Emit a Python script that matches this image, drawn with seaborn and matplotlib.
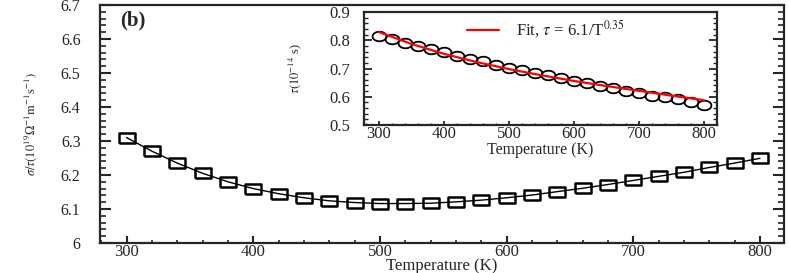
import numpy as np
import pandas as pd
import matplotlib
matplotlib.use("Agg")
import matplotlib.pyplot as plt
import seaborn as sns
from matplotlib.ticker import MultipleLocator, FuncFormatter

# ---- data ----
temps = [300, 320, 340, 360, 380, 400, 420, 440, 460, 480, 500, 520, 540,
         560, 580, 600, 620, 640, 660, 680, 700, 720, 740, 760, 780, 800]
sigma_tau = [6.310, 6.270, 6.235, 6.205, 6.180, 6.160, 6.145, 6.133, 6.124,
             6.119, 6.116, 6.116, 6.117, 6.121, 6.126, 6.133, 6.141, 6.151,
             6.161, 6.172, 6.184, 6.196, 6.208, 6.222, 6.235, 6.249]
tau = [0.815, 0.803, 0.792, 0.781, 0.768, 0.757, 0.745, 0.735, 0.725, 0.714,
       0.703, 0.694, 0.685, 0.676, 0.666, 0.657, 0.648, 0.639, 0.630, 0.621,
       0.613, 0.604, 0.598, 0.591, 0.582, 0.571]
fit_T = [300, 350, 400, 450, 500, 550, 600, 650, 700, 750, 800]
fit_tau = [0.829, 0.787, 0.752, 0.723, 0.698, 0.676, 0.656, 0.638, 0.621, 0.604, 0.588]

main_df = pd.DataFrame({"T": temps, "v": sigma_tau})
tau_df = pd.DataFrame({"T": temps, "v": tau})
fit_df = pd.DataFrame({"T": fit_T, "v": fit_tau})

sns.set_style("ticks")
plt.rcParams["font.family"] = ["Liberation Serif", "DejaVu Serif"]
plt.rcParams["mathtext.fontset"] = "stix"

# wide (stretched) open square and ellipse markers, as in the reference
rect_marker = [(-1.5, -1), (1.5, -1), (1.5, 1), (-1.5, 1), (-1.5, -1)]
th = np.linspace(0, 2 * np.pi, 41)
ellipse_marker = list(zip(1.45 * np.cos(th), np.sin(th)))

fig = plt.figure(figsize=(7.89, 2.73), dpi=100)
ax = fig.add_axes([0.1267, 0.1099, 0.867, 0.872])

sns.lineplot(data=main_df, x="T", y="v", ax=ax, color="black", lw=1.0,
             marker=rect_marker, markersize=11, markerfacecolor="none",
             markeredgecolor="black", markeredgewidth=1.8)
ax.set_xlim(279, 819)
ax.set_ylim(6.0, 6.7)
ax.xaxis.set_major_locator(MultipleLocator(100))
ax.xaxis.set_minor_locator(MultipleLocator(20))
ax.yaxis.set_major_locator(MultipleLocator(0.1))
ax.yaxis.set_minor_locator(MultipleLocator(0.02))
ax.yaxis.set_major_formatter(FuncFormatter(lambda v, p: f"{v:g}"))
ax.tick_params(axis="y", which="major", direction="in", length=8, width=1.5,
               left=True, right=True, labelsize=11.5, pad=14)
ax.tick_params(axis="y", which="minor", direction="in", length=4.5, width=1.2,
               left=True, right=True)
ax.tick_params(axis="x", which="major", direction="in", length=5, width=1.5,
               labelsize=12, pad=1)
ax.tick_params(axis="x", which="minor", direction="in", length=2.5, width=1.2)
for s in ax.spines.values():
    s.set_linewidth(1.6)
ax.set_xlabel("Temperature (K)", fontsize=12, labelpad=-2)
ax.set_ylabel(r"$\sigma/\tau(10^{19}\Omega^{-1}\mathrm{m}^{-1}\mathrm{s}^{-1})$",
              fontsize=9, labelpad=16)
ax.text(0.03, 0.935, "(b)", transform=ax.transAxes, fontsize=15,
        fontweight="bold", va="center", ha="left")

# ---- inset ----
ins = fig.add_axes([0.4613, 0.5421, 0.4474, 0.4139])
sns.lineplot(data=tau_df, x="T", y="v", ax=ins, color="black", lw=0,
             marker=ellipse_marker, markersize=10, markerfacecolor="none",
             markeredgecolor="black", markeredgewidth=1.3, linestyle="none")
sns.lineplot(data=fit_df, x="T", y="v", ax=ins, color="red", lw=1.6,
             label=r"Fit, $\tau$ = 6.1/T$^{0.35}$")
ins.set_xlim(277, 820)
ins.set_ylim(0.5, 0.9)
ins.xaxis.set_major_locator(MultipleLocator(100))
ins.xaxis.set_minor_locator(MultipleLocator(20))
ins.yaxis.set_major_locator(MultipleLocator(0.1))
ins.yaxis.set_minor_locator(MultipleLocator(0.02))
ins.tick_params(axis="y", which="major", direction="in", length=6, width=1.3,
                left=True, right=True, labelsize=12, pad=10)
ins.tick_params(axis="y", which="minor", direction="in", length=3, width=1.0,
                left=True, right=True)
ins.tick_params(axis="x", which="major", direction="in", length=3, width=1.3,
                labelsize=12, pad=1)
ins.tick_params(axis="x", which="minor", direction="in", length=1.5, width=1.0)
for s in ins.spines.values():
    s.set_linewidth(1.6)
ins.set_xlabel("Temperature (K)", fontsize=11.5, labelpad=0)
ins.set_ylabel(r"$\tau(10^{-14}$ s)", fontsize=9, labelpad=18)
leg = ins.legend(loc="center left", bbox_to_anchor=(0.25, 0.845), frameon=False,
                 fontsize=12, handlelength=1.9, handletextpad=1.0)

fig.savefig("out.png", dpi=100)
